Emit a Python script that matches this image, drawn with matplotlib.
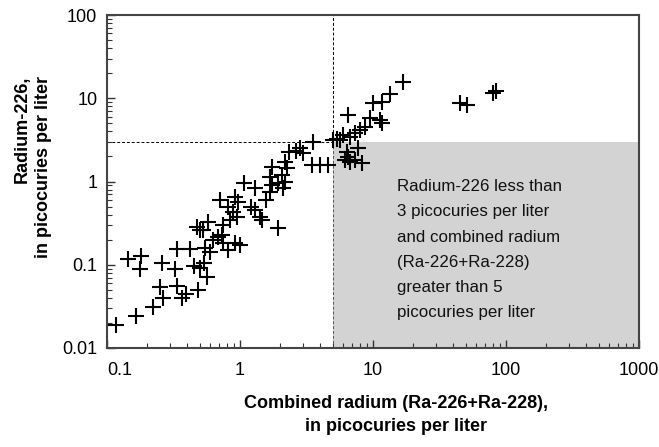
import matplotlib
matplotlib.use("Agg")
import matplotlib.pyplot as plt
from matplotlib.ticker import LogLocator, FixedLocator, NullFormatter

# Combined radium (Ra-226+Ra-228), pCi/L
combined = [0.117, 0.165, 0.221, 0.265, 0.250, 0.338, 0.393, 0.364, 0.481, 0.325,
            0.258, 0.145, 0.180, 0.177, 0.338, 0.421, 0.453, 0.500, 0.562, 0.536,
            0.595, 0.545, 0.500, 0.473, 0.577, 0.530, 0.630, 0.687, 0.728, 0.749,
            0.917, 1.00, 0.817, 0.749, 0.841, 0.944, 0.891, 0.817, 0.707, 0.917,
            0.971, 1.22, 1.30, 1.41, 1.46, 1.94, 1.57, 1.08, 1.30, 1.68,
            1.73, 1.68, 1.94, 2.18, 2.06, 2.12, 1.73, 2.18, 2.24, 2.35,
            2.64, 2.83, 2.99, 3.56, 3.46, 4.0, 4.61, 5.03, 5.33, 5.65,
            5.98, 6.71, 7.32, 7.98, 8.71, 6.52, 9.49, 11.3, 11.6, 10.05,
            11.6, 13.4, 16.9, 7.75, 6.34, 6.52, 6.16, 6.71, 7.32, 8.22,
            45.1, 50.9, 79.8, 84.1]
# Radium-226, pCi/L
ra226 = [0.019, 0.024, 0.031, 0.040, 0.054, 0.056, 0.045, 0.040, 0.050, 0.088,
         0.106, 0.116, 0.127, 0.088, 0.154, 0.154, 0.097, 0.091, 0.072, 0.104,
         0.143, 0.157, 0.261, 0.286, 0.328, 0.261, 0.198, 0.217, 0.227, 0.181,
         0.181, 0.172, 0.150, 0.300, 0.344, 0.377, 0.433, 0.497, 0.598, 0.655,
         0.571, 0.497, 0.454, 0.377, 0.344, 0.273, 0.598, 0.965, 0.826, 1.14,
         0.905, 0.752, 0.949, 0.991, 1.19, 0.826, 1.50, 1.72, 1.44, 2.27,
         2.32, 2.50, 2.17, 3.00, 1.57, 1.57, 1.57, 3.14, 3.20, 3.14,
         3.61, 3.44, 3.78, 4.14, 4.54, 6.27, 5.72, 5.46, 4.98, 8.66,
         9.06, 11.4, 15.7, 2.50, 2.27, 1.98, 1.81, 1.72, 1.81, 1.65,
         8.66, 8.26, 11.5, 12.2]

x_ticks = [0.1, 1, 10, 100, 1000]
x_labels = ["0.1", "1", "10", "100", "1000"]
y_ticks = [0.01, 0.1, 1, 10, 100]
y_labels = ["0.01", "0.1", "1", "10", "100"]
ra226_limit = 3
combined_limit = 5

plt.rcParams['font.family'] = ['Liberation Sans', 'DejaVu Sans']

fig = plt.figure(figsize=(6.59, 4.47), dpi=100)
ax = fig.add_axes([107 / 659, 1 - 348 / 447, 532 / 659, 333 / 447])
ax.set_xscale('log')
ax.set_yscale('log')
ax.set_xlim(0.1, 1000)
ax.set_ylim(0.01, 100)

# shaded region and guide lines
ax.fill_between([combined_limit, 1000], 0.01, ra226_limit, color='#d3d3d3', lw=0, zorder=0)
ax.plot([0.1, combined_limit], [ra226_limit, ra226_limit], color='black', lw=0.7,
        ls=(0, (3, 2)), zorder=1)
ax.plot([combined_limit, combined_limit], [ra226_limit, 100], color='black', lw=0.7,
        ls=(0, (3, 2)), zorder=1)
ax.plot([combined_limit, combined_limit], [0.01, ra226_limit], color='#555555', lw=0.7,
        ls=(0, (3, 2)), zorder=1)

ax.plot(combined, ra226, '+', color='black', ms=12, mew=1.5, zorder=3)

ax.text(15.2, 0.152, "Radium-226 less than\n3 picocuries per liter\nand combined radium\n"
        "(Ra-226+Ra-228)\ngreater than 5\npicocuries per liter",
        fontsize=12.2, va='center', ha='left', linespacing=1.85, color='#111111')

for s in ax.spines.values():
    s.set_color('#444444')
    s.set_linewidth(1.5)

ax.xaxis.set_major_locator(FixedLocator(x_ticks))
ax.set_xticklabels(x_labels)
ax.yaxis.set_major_locator(FixedLocator(y_ticks))
ax.set_yticklabels(y_labels)
ax.xaxis.set_minor_locator(LogLocator(base=10, subs=range(2, 10)))
ax.yaxis.set_minor_locator(LogLocator(base=10, subs=range(2, 10)))
ax.xaxis.set_minor_formatter(NullFormatter())
ax.yaxis.set_minor_formatter(NullFormatter())
ax.tick_params(which='both', direction='in', top=False, right=False, color='#333333')
ax.tick_params(which='major', length=6, width=1, labelsize=13)
ax.tick_params(which='minor', length=3.5, width=0.8)
ax.tick_params(axis='x', which='major', pad=10)
ax.tick_params(axis='y', which='major', pad=7)
ax.get_xticklabels()[0].set_ha('left')

fig.text(396 / 659, 1 - 415 / 447, "Combined radium (Ra-226+Ra-228),\nin picocuries per liter",
         ha='center', va='center', fontsize=13, fontweight='bold', linespacing=1.4)
fig.text(33 / 659, 1 - 167 / 447, "Radium-226,\nin picocuries per liter",
         ha='center', va='center', rotation=90, multialignment='right',
         fontsize=13, fontweight='bold', linespacing=1.35)

fig.savefig('out.png', dpi=100)
